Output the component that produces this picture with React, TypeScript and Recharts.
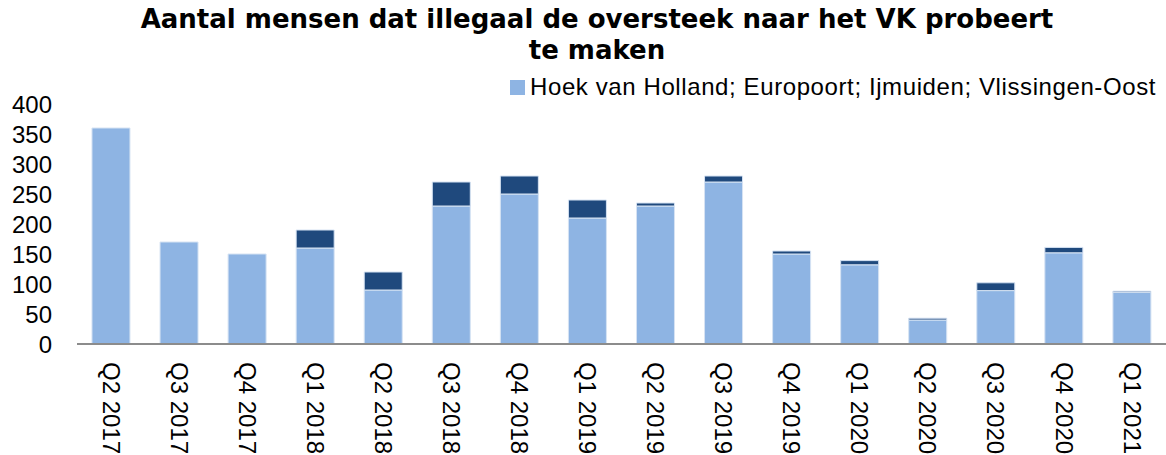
import { BarChart, Bar, XAxis, YAxis } from 'recharts'

const quarters = [
  'Q2 2017', 'Q3 2017', 'Q4 2017', 'Q1 2018', 'Q2 2018', 'Q3 2018', 'Q4 2018', 'Q1 2019',
  'Q2 2019', 'Q3 2019', 'Q4 2019', 'Q1 2020', 'Q2 2020', 'Q3 2020', 'Q4 2020', 'Q1 2021'
]
const havens = [360, 170, 150, 160, 90, 230, 250, 210, 230, 270, 150, 132, 40, 89, 152, 86]
const overig = [0, 0, 0, 30, 30, 40, 30, 30, 5, 10, 5, 7, 3, 13, 9, 2]
const yTicks = [0, 50, 100, 150, 200, 250, 300, 350, 400]

const LIGHT = '#8EB4E3'
const DARK = '#1F497D'
const FONT = '"Liberation Sans", Arial, sans-serif'

const data = quarters.map((q, i) => ({ q, havens: havens[i], overig: overig[i] }))

const QuarterTick = ({ x, y, payload }: any) => (
  <g transform={`translate(${x},${y})`}>
    <text transform="rotate(90)" x={10} y={0} dy="0.35em" textAnchor="start"
      fontFamily={FONT} fontSize={24} fill="#000">
      {payload.value}
    </text>
  </g>
)

export default function App() {
  return (
    <div style={{ position: 'absolute', left: 0, top: 0, width: 1166, height: 455, background: '#fff', overflow: 'hidden' }}>
      <div style={{
        position: 'absolute', left: 0, top: 4, width: 1194, textAlign: 'center',
        fontFamily: '"DejaVu Sans", Verdana, sans-serif', fontWeight: 'bold', fontSize: 26, lineHeight: '31px'
      }}>
        Aantal mensen dat illegaal de oversteek naar het VK probeert<br />te maken
      </div>
      {/* legend: only the ports series is named in the original */}
      <div style={{
        position: 'absolute', left: 510, top: 73, display: 'flex', alignItems: 'center',
        fontFamily: FONT, fontSize: 24, letterSpacing: 0.6, color: '#000', whiteSpace: 'nowrap'
      }}>
        <span style={{ width: 15, height: 15, background: LIGHT, marginRight: 5, display: 'inline-block' }} />
        Hoek van Holland; Europoort; Ijmuiden; Vlissingen-Oost
      </div>
      <BarChart width={1166} height={455} data={data} margin={{ top: 104, right: 0, bottom: 0, left: 0 }}
        barCategoryGap="22%">
        <XAxis dataKey="q" height={111} interval={0} tickLine={false}
          axisLine={{ stroke: '#8C8C8C', strokeWidth: 2 }} tick={<QuarterTick />} />
        <YAxis width={77} domain={[0, 400]} ticks={yTicks} interval={0} axisLine={false} tickLine={false}
          tickSize={0} tickMargin={25} tick={{ fontFamily: FONT, fontSize: 24, fill: '#000' }} />
        <Bar dataKey="havens" stackId="a" fill={LIGHT} stroke="#D6E3F3" strokeWidth={1} isAnimationActive={false} />
        <Bar dataKey="overig" stackId="a" fill={DARK} stroke="#D6E3F3" strokeWidth={1} isAnimationActive={false} />
      </BarChart>
    </div>
  )
}
